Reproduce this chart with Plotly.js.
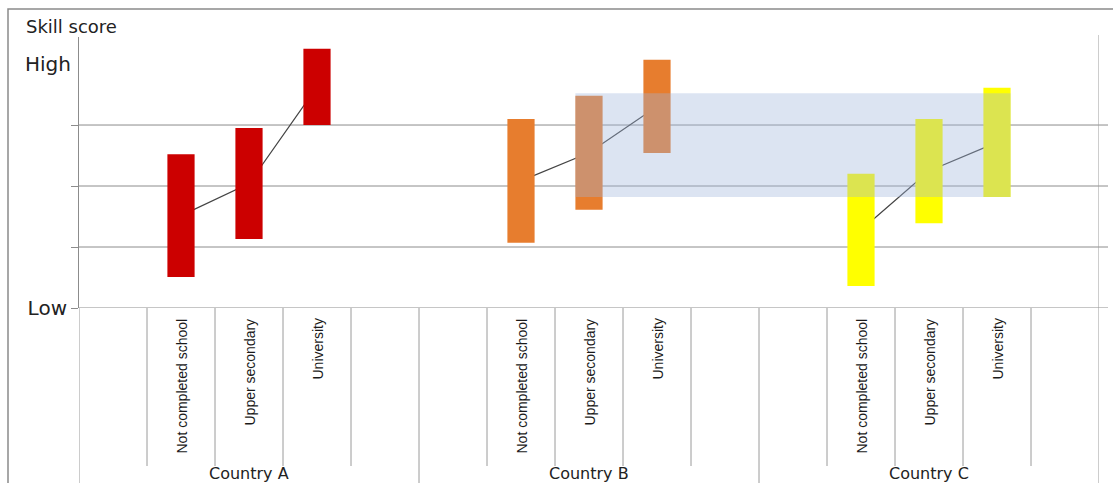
<!DOCTYPE html>
<html>
<head>
<meta charset="utf-8">
<script src="https://cdn.plot.ly/plotly-3.0.1.min.js"></script>
<style>html,body{margin:0;padding:0;background:#fff;}#chart{width:1113px;height:483px;}</style>
</head>
<body>
<div id="chart"></div>
<script>
// ---- data ----
const countries = ['Country A', 'Country B', 'Country C'];
const levels = ['Not completed school', 'Upper secondary', 'University'];
const lowA  = [0.51, 1.13, 3.00];
const highA = [2.52, 2.95, 4.25];
const lowB  = [1.07, 1.61, 2.54];
const highB = [3.10, 3.48, 4.07];
const lowC  = [0.36, 1.39, 1.82];
const highC = [2.20, 3.10, 3.61];
const bandRange = [1.82, 3.52];          // shaded common range (low, high)
const yTickLabels = ['Low', 'High'];
const axisTitle = 'Skill score';

// ---- layout helpers ----
const colors = ['#cc0000', '#e77d2e', '#ffff00'];
const lows = [lowA, lowB, lowC];
const highs = [highA, highB, highC];
const slotsPerCountry = 5;
const barWidth = 0.4;
const W = 1113, H = 483, ml = 79, mr = 14, mt = 37, mb = 175;
const plotH = H - mt - mb;
const yMax = 4.443;
const py = (pix) => ((H - mb) - pix) / plotH;      // pixel -> paper y
const pxp = (pix) => (pix - ml) / (W - ml - mr);   // pixel -> paper x
const xPos = (ci, li) => ci * slotsPerCountry + 1.5 + li;

const traces = [];
// connecting lines (under bars)
countries.forEach((c, ci) => {
  traces.push({
    type: 'scatter', mode: 'lines',
    x: levels.map((l, li) => xPos(ci, li)),
    y: levels.map((l, li) => (lows[ci][li] + highs[ci][li]) / 2),
    line: {color: '#444444', width: 1.2},
    xaxis: 'x', yaxis: 'y', hoverinfo: 'skip', showlegend: false
  });
});
// bars (overlay axes, drawn above lines)
countries.forEach((c, ci) => {
  traces.push({
    type: 'bar',
    x: levels.map((l, li) => xPos(ci, li)),
    y: levels.map((l, li) => highs[ci][li] - lows[ci][li]),
    base: lows[ci],
    width: barWidth,
    marker: {color: colors[ci], line: {width: 0}},
    xaxis: 'x2', yaxis: 'y2', showlegend: false, name: c
  });
});

const shapes = [];
const gray = '#8c8c8c';
// horizontal gridlines incl. baseline
[0, 1, 2, 3].forEach(v => {
  shapes.push({type: 'line', xref: 'paper', yref: 'y', x0: 0, x1: pxp(1108), y0: v, y1: v,
    line: {color: gray, width: 1}, layer: 'below'});
});
// separators under the axis
const nSlots = countries.length * slotsPerCountry;
for (let s = 0; s <= nSlots; s++) {
  const isCountry = s % slotsPerCountry === 0;
  shapes.push({type: 'line', xref: 'x', yref: 'paper', x0: s, x1: s,
    y0: isCountry ? py(H + 10) : py(466), y1: (s === nSlots) ? py(35) : 0,
    line: {color: '#9a9a9a', width: 1}, layer: 'below'});
}
// outer frame (top and left edge visible)
shapes.push({type: 'rect', xref: 'paper', yref: 'paper', x0: pxp(8), x1: pxp(W + 20), y0: py(H + 20), y1: py(9),
  line: {color: '#8a8a8a', width: 1.5}, fillcolor: 'rgba(0,0,0,0)', layer: 'below'});
// shaded common band (above bars)
shapes.push({type: 'rect', xref: 'x', yref: 'y',
  x0: xPos(1, 1) - barWidth / 2, x1: xPos(2, 2) + barWidth / 2,
  y0: bandRange[0], y1: bandRange[1],
  fillcolor: 'rgba(159,181,219,0.365)', line: {width: 0}, layer: 'above'});

const annotations = [];
annotations.push({xref: 'paper', yref: 'paper', x: pxp(24), y: py(26), xanchor: 'left', yanchor: 'middle',
  text: axisTitle, showarrow: false, font: {family: 'DejaVu Sans', size: 18, color: '#222'}});
annotations.push({xref: 'paper', yref: 'y', x: pxp(73), y: 4, xanchor: 'right', yanchor: 'middle',
  text: yTickLabels[1], showarrow: false, font: {family: 'DejaVu Sans', size: 20, color: '#222'}});
countries.forEach((c, ci) => {
  levels.forEach((l, li) => {
    annotations.push({xref: 'x', yref: 'paper', x: xPos(ci, li), y: py(317), xanchor: 'center', yanchor: 'top',
      text: l, textangle: -90, showarrow: false, font: {family: 'Liberation Sans', size: 14, color: '#1a1a1a'}});
  });
  annotations.push({xref: 'x', yref: 'paper', x: ci * slotsPerCountry + slotsPerCountry / 2, y: py(473),
    xanchor: 'center', yanchor: 'middle', text: c, showarrow: false,
    font: {family: 'DejaVu Sans', size: 16, color: '#222'}});
});

const xr = [0, nSlots];
const layout = {
  width: W, height: H,
  margin: {l: ml, r: mr, t: mt, b: mb, pad: 0},
  paper_bgcolor: '#ffffff', plot_bgcolor: 'rgba(0,0,0,0)',
  showlegend: false, barmode: 'overlay',
  xaxis: {range: xr, visible: false, fixedrange: true},
  yaxis: {range: [0, yMax], tickvals: [0, 1, 2, 3], ticktext: [yTickLabels[0], '', '', ''],
    ticks: 'outside', ticklen: 7, tickcolor: gray, showgrid: false, zeroline: false,
    showline: true, linecolor: gray, linewidth: 1,
    tickfont: {family: 'DejaVu Sans', size: 20, color: '#222'}},
  xaxis2: {range: xr, visible: false, overlaying: 'x', fixedrange: true},
  yaxis2: {range: [0, yMax], visible: false, overlaying: 'y'},
  shapes: shapes, annotations: annotations
};

Plotly.newPlot('chart', traces, layout, {displayModeBar: false, staticPlot: true});
</script>
</body>
</html>
